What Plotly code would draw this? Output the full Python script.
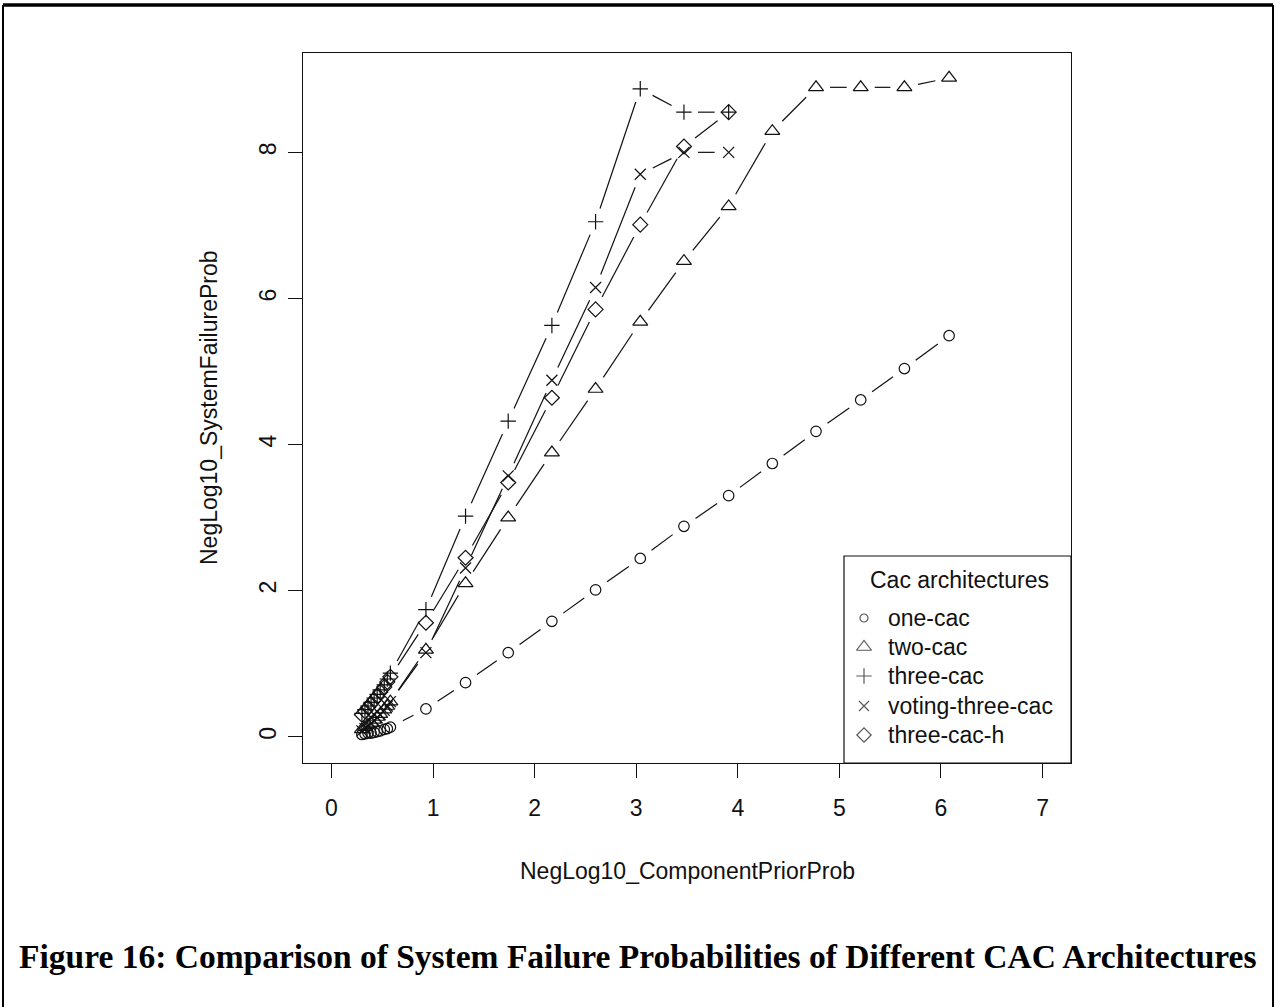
import math
import plotly.graph_objects as go

# ---------------- data ----------------
x_prior_long = [0.30, 0.33, 0.36, 0.39, 0.42, 0.45, 0.48, 0.52, 0.55, 0.58,
                0.93, 1.32, 1.74, 2.17, 2.60, 3.04, 3.47, 3.91, 4.34, 4.77, 5.21, 5.64, 6.08]
x_prior_short = [0.30, 0.33, 0.36, 0.39, 0.42, 0.45, 0.48, 0.52, 0.55, 0.58,
                 0.93, 1.32, 1.74, 2.17, 2.60, 3.04, 3.47, 3.91]

one_cac = [0.03, 0.04, 0.05, 0.05, 0.06, 0.07, 0.08, 0.10, 0.11, 0.13,
           0.38, 0.74, 1.15, 1.58, 2.01, 2.44, 2.88, 3.30, 3.74, 4.18, 4.61, 5.04, 5.49]
two_cac = [0.10, 0.13, 0.16, 0.19, 0.23, 0.27, 0.31, 0.37, 0.42, 0.48,
           1.19, 2.10, 3.00, 3.89, 4.76, 5.68, 6.51, 7.26, 8.29, 8.89, 8.89, 8.89, 9.02]
three_cac = [0.32, 0.37, 0.42, 0.47, 0.53, 0.58, 0.64, 0.71, 0.79, 0.87,
             1.74, 3.02, 4.32, 5.63, 7.05, 8.87, 8.55, 8.55]
voting_three_cac = [0.08, 0.11, 0.14, 0.18, 0.22, 0.26, 0.30, 0.36, 0.42, 0.48,
                    1.15, 2.31, 3.57, 4.88, 6.15, 7.70, 8.00, 8.00]
three_cac_h = [0.30, 0.35, 0.40, 0.45, 0.50, 0.55, 0.61, 0.68, 0.75, 0.82,
               1.56, 2.45, 3.48, 4.64, 5.85, 7.01, 8.08, 8.55]

series_names = ["one-cac", "two-cac", "three-cac", "voting-three-cac", "three-cac-h"]
x_ticks = [0, 1, 2, 3, 4, 5, 6, 7]
y_ticks = [0, 2, 4, 6, 8]

x_title = "NegLog10_ComponentPriorProb"
y_title = "NegLog10_SystemFailureProb"
legend_title = "Cac architectures"
caption = "Figure 16: Comparison of System Failure Probabilities of Different CAC Architectures"

# ---------------- layout geometry ----------------
W, H = 1276, 1007
L, R, T, B = 303, 1071, 53, 763
XR = [-0.28, 7.28]
YR = [-0.36, 9.36]
FONT = "Liberation Sans, Arial, Helvetica, sans-serif"
FS = 23


def to_px(x, y):
    return (L + (x - XR[0]) / (XR[1] - XR[0]) * (R - L),
            B - (y - YR[0]) / (YR[1] - YR[0]) * (B - T))


def to_data(px, py):
    return (XR[0] + (px - L) / (R - L) * (XR[1] - XR[0]),
            YR[0] + (B - py) / (B - T) * (YR[1] - YR[0]))


def pxx(px):
    return (px - L) / (R - L)


def pxy(py):
    return (B - py) / (B - T)


def gapped(xs, ys, gap=14.0):
    """R type='b': segments between points, leaving a gap around each point."""
    ox, oy = [], []
    for i in range(len(xs) - 1):
        x0, y0 = to_px(xs[i], ys[i])
        x1, y1 = to_px(xs[i + 1], ys[i + 1])
        d = math.hypot(x1 - x0, y1 - y0)
        if d <= 2 * gap:
            continue
        ux, uy = (x1 - x0) / d, (y1 - y0) / d
        a = to_data(x0 + ux * gap, y0 + uy * gap)
        b = to_data(x1 - ux * gap, y1 - uy * gap)
        ox += [a[0], b[0], None]
        oy += [a[1], b[1], None]
    return ox, oy


symbols = ["circle-open", "triangle-up-open", "cross-thin-open", "x-thin-open", "diamond-open"]
sizes = [10.5, 13, 11, 11, 11.5]
xs_all = [x_prior_long, x_prior_long, x_prior_short, x_prior_short, x_prior_short]
ys_all = [one_cac, two_cac, three_cac, voting_three_cac, three_cac_h]

fig = go.Figure()
for name, sym, sz, xs, ys in zip(series_names, symbols, sizes, xs_all, ys_all):
    lx, ly = gapped(xs, ys)
    fig.add_trace(go.Scatter(x=lx, y=ly, mode="lines", showlegend=False,
                             line=dict(color="#111", width=1.2), hoverinfo="skip",
                             cliponaxis=True))
    fig.add_trace(go.Scatter(x=xs, y=ys, mode="markers", name=name, showlegend=False,
                             marker=dict(symbol=sym, size=sz, color="#111",
                                         line=dict(color="#111", width=1.2))))

# ---------------- manual R-style legend ----------------
leg_rows = [618, 647, 676, 706, 735]
leg_key_x = 864
leg_sizes = [8, 13, 11, 10, 11]
fig.add_trace(go.Scatter(x=[leg_key_x] * len(series_names), y=leg_rows, mode="markers",
                         xaxis="x2", yaxis="y2", showlegend=False, hoverinfo="skip",
                         marker=dict(symbol=symbols, size=leg_sizes, color="#111",
                                     line=dict(color="#111", width=1.2))))

annotations = []
annotations.append(dict(x=959, y=580, xref="x2", yref="y2", text=legend_title,
                        showarrow=False, xanchor="center", yanchor="middle",
                        font=dict(family=FONT, size=FS, color="#111")))
for name, ry in zip(series_names, leg_rows):
    annotations.append(dict(x=886, y=ry, xref="x2", yref="y2", text=name,
                            showarrow=False, xanchor="left", yanchor="middle",
                            font=dict(family=FONT, size=FS, color="#111")))

# axis titles
annotations.append(dict(x=pxx(687), y=pxy(871), xref="paper", yref="paper", text=x_title,
                        showarrow=False, xanchor="center", yanchor="middle",
                        font=dict(family=FONT, size=FS, color="#111")))
annotations.append(dict(x=pxx(209), y=pxy(408), xref="paper", yref="paper", text=y_title,
                        showarrow=False, xanchor="center", yanchor="middle", textangle=-90,
                        font=dict(family=FONT, size=FS, color="#111")))
# caption
annotations.append(dict(x=pxx(638), y=pxy(956), xref="paper", yref="paper", text="<b>" + caption + "</b>",
                        showarrow=False, xanchor="center", yanchor="middle",
                        font=dict(family="Liberation Serif, Times New Roman, serif", size=33.5, color="black")))

shapes = [
    # legend box
    dict(type="rect", xref="x2", yref="y2", x0=844, x1=1071, y0=556, y1=763,
         line=dict(color="#111", width=1.2), fillcolor="rgba(0,0,0,0)", layer="above"),
    # outer frame of the figure
    dict(type="line", xref="paper", yref="paper", x0=pxx(3), x1=pxx(1273), y0=pxy(5), y1=pxy(5),
         line=dict(color="black", width=3.5)),
    dict(type="line", xref="paper", yref="paper", x0=pxx(3), x1=pxx(3), y0=pxy(5), y1=pxy(1012),
         line=dict(color="black", width=2)),
    dict(type="line", xref="paper", yref="paper", x0=pxx(1273), x1=pxx(1273), y0=pxy(5), y1=pxy(1012),
         line=dict(color="black", width=2)),
]

axis_common = dict(showgrid=False, zeroline=False, showline=True, mirror=True,
                   linecolor="#111", linewidth=1.2, ticks="outside", ticklen=14,
                   tickwidth=1.2, tickcolor="#111",
                   tickfont=dict(family=FONT, size=FS, color="#111"))

fig.update_layout(
    width=W, height=H,
    margin=dict(l=L, r=W - R, t=T, b=H - B, pad=0),
    paper_bgcolor="white", plot_bgcolor="white",
    showlegend=False,
    xaxis=dict(range=XR, tickvals=x_ticks, ticklabelstandoff=10, **axis_common),
    yaxis=dict(range=YR, tickvals=y_ticks, tickangle=-90, ticklabelstandoff=3, **axis_common),
    xaxis2=dict(overlaying="x", range=[L, R], visible=False, anchor="y2"),
    yaxis2=dict(overlaying="y", range=[B, T], visible=False, anchor="x2"),
    annotations=annotations,
    shapes=shapes,
)

# the page's default 8px body margin would shift the whole figure
fig.write_html("out.html",
               config={"displayModeBar": False},
               post_script="document.body.style.margin='0';document.body.style.overflow='hidden';")
